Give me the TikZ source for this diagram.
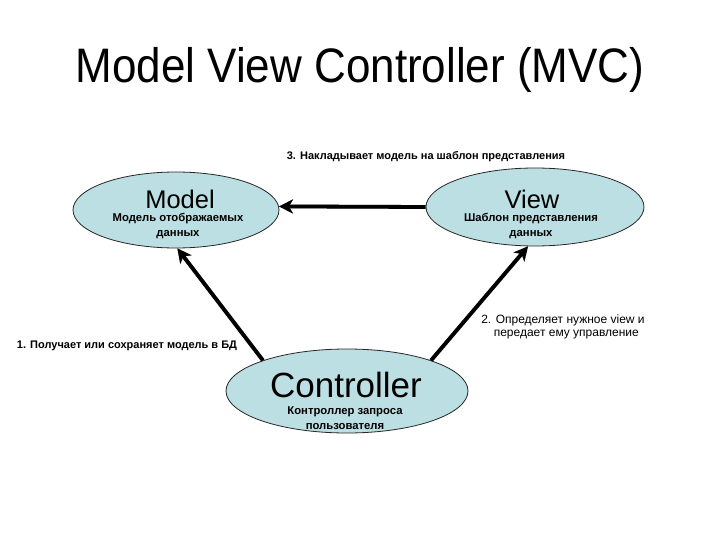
\documentclass[tikz,border=0pt]{standalone}
\usepackage{fontspec}
\setmainfont{Liberation Sans}
\usetikzlibrary{shapes.geometric,arrows.meta}
\definecolor{ellfill}{HTML}{BCDFE3}
\tikzset{
  ell/.style={ellipse, draw=black!85, line width=0.8pt, fill=ellfill, inner sep=0pt},
  arr/.style={line width=3.8pt, -{Stealth[length=14pt,width=14pt,inset=4pt]}},
  shadowarr/.style={arr, draw=black!40, fill=black!40},
  lbl/.style={font=\fontsize{11}{15}\selectfont\bfseries, inner sep=0pt, align=center},
  sublbl/.style={font=\fontsize{11.3}{15}\selectfont\bfseries, inner sep=0pt, align=center},
}
\begin{document}
\begin{tikzpicture}[x=1pt,y=-1pt]
\useasboundingbox[fill=white] (0,0) rectangle (720,540);
\node[font=\fontsize{44}{50}\selectfont, inner sep=0pt] (title) at (360,70) {\scalebox{1}[1.1]{Model View Controller (MVC)}};

\node[ell, minimum width=206pt, minimum height=76pt] (model) at (176,210) {};
\node[ell, minimum width=218pt, minimum height=78pt] (view) at (535,207) {};
\node[ell, minimum width=242pt, minimum height=84pt] (ctrl) at (347,391) {};

\node[font=\fontsize{25.5}{28}\selectfont, inner sep=0pt] (mt) at (180,199) {Model};
\node[sublbl] (ms) at (178,226) {Модель отображаемых\\данных};
\node[font=\fontsize{25.5}{28}\selectfont, inner sep=0pt] (vt) at (532,199) {View};
\node[sublbl] (vs) at (531,226) {Шаблон представления\\данных};
\node[font=\fontsize{35}{38}\selectfont, inner sep=0pt] (ct) at (346,385) {Controller};
\node[sublbl] (cs) at (345,418) {Контроллер запроса\\пользователя};

\node[lbl] (l3) at (426,157) {3. Накладывает модель на шаблон представления};
\node[lbl] (l1) at (127,346) {1. Получает или сохраняет модель в БД};
\node[font=\fontsize{12}{13}\selectfont, inner sep=0pt, align=center] (l2) at (563,327) {2. Определяет нужное view и\\\ \ передает ему управление};

% shadows
\begin{scope}[shift={(2.5,2.5)}]
\draw[shadowarr] (ctrl.160) -- (model.-88);
\draw[shadowarr] (ctrl.20) -- (view.-100);
\draw[shadowarr] (view.180) -- (model.2);
\end{scope}
\draw[arr] (ctrl.160) -- (model.-88);
\draw[arr] (ctrl.20) -- (view.-100);
\draw[arr] (view.180) -- (model.2);
\end{tikzpicture}
\end{document}
